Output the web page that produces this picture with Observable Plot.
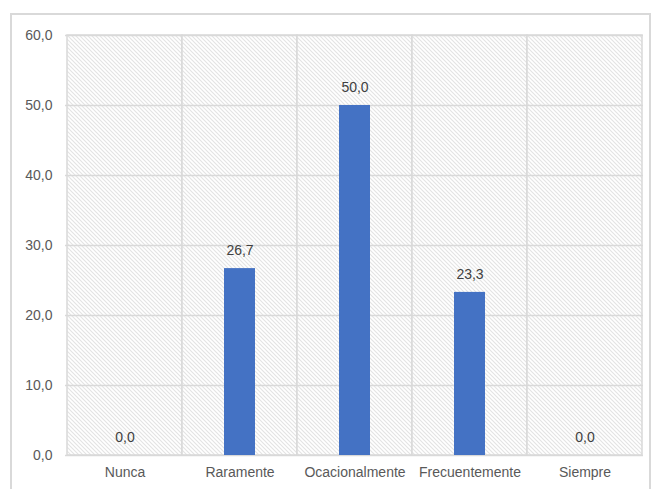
<!DOCTYPE html>
<html>
<head>
<meta charset="utf-8">
<script src="https://cdn.jsdelivr.net/npm/d3@7"></script>
<script src="https://cdn.jsdelivr.net/npm/@observablehq/plot@0.6"></script>
<style>
  html, body { margin: 0; padding: 0; background: #fff; }
  #wrap { position: relative; width: 653px; height: 489px; overflow: hidden; }
  #border { position: absolute; left: 10px; top: 13px; width: 641px; height: 500px;
            border: 2px solid #d9d9d9; box-sizing: border-box; pointer-events: none; }
  #chart { position: absolute; left: 0; top: 0; }
</style>
</head>
<body>
<div id="wrap"><div id="chart"></div><div id="border"></div></div>
<script>
const categories = ["Nunca", "Raramente", "Ocacionalmente", "Frecuentemente", "Siempre"];
const values = [0.0, 26.7, 50.0, 23.3, 0.0];
const yTicks = [0, 10, 20, 30, 40, 50, 60];

const data = categories.map((c, i) => ({category: c, value: values[i]}));
const fmt = v => d3.format(".1f")(v).replace(".", ",");

const chart = Plot.plot({
  width: 653,
  height: 489,
  marginLeft: 65,
  marginRight: 10,
  marginTop: 35,
  marginBottom: 34,
  style: {fontFamily: "'Liberation Sans', Arial, sans-serif", fontSize: "14px", color: "#595959", background: "transparent"},
  x: {domain: categories, padding: 0, label: null, tickSize: 0, tickPadding: 12},
  y: {domain: [0, 60], ticks: yTicks, label: null, tickSize: 0, tickPadding: 13, tickFormat: fmt},
  marks: [
    Plot.cell(categories, {x: d => d, fill: "url(#hatch)", stroke: "#d9d9d9", strokeWidth: 1.5}),
    Plot.ruleY(yTicks, {stroke: "#d9d9d9", strokeWidth: 1.5}),
    Plot.barY(data, {x: "category", y: "value", fill: "#4472C4", insetLeft: 42, insetRight: 42}),
    Plot.text(data, {x: "category", y: "value", text: d => fmt(d.value), dy: -18,
      fill: "#404040", fontSize: 14, lineAnchor: "middle"})
  ]
});

const ns = "http://www.w3.org/2000/svg";
const defs = document.createElementNS(ns, "defs");
defs.innerHTML = `<pattern id="hatch" patternUnits="userSpaceOnUse" width="4" height="4">
  <rect width="4" height="4" fill="#ffffff"/>
  <path d="M-1,-1 L5,5 M-1,3 L1,5 M3,-1 L5,1" stroke="#e3e3e3" stroke-width="1.1"/>
</pattern>`;
chart.insertBefore(defs, chart.firstChild);
document.getElementById("chart").appendChild(chart);
</script>
</body>
</html>
